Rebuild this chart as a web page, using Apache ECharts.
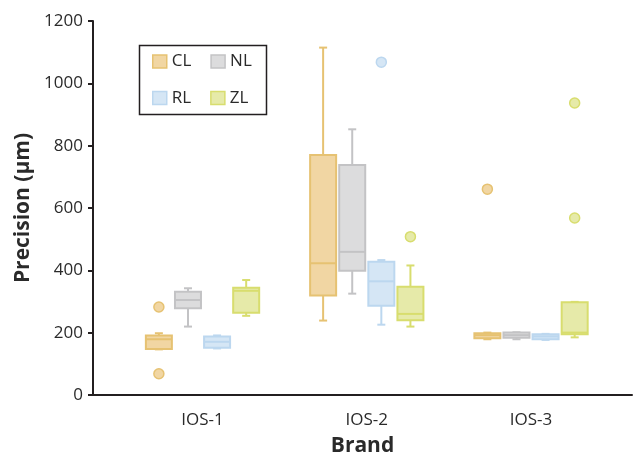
<!DOCTYPE html>
<html>
<head>
<meta charset="utf-8">
<script src="https://cdn.jsdelivr.net/npm/echarts@6/dist/echarts.min.js"></script>
<style>html,body{margin:0;padding:0;background:#fff}#c{width:634px;height:462px}</style>
</head>
<body>
<div id="c"></div>
<script>
// ---- data ----
const categories = ['IOS-1', 'IOS-2', 'IOS-3'];
const seriesNames = ['CL', 'NL', 'RL', 'ZL'];
const yTicks = [0, 200, 400, 600, 800, 1000, 1200];
// each box: [min, Q1, median, Q3, max]
const clBoxes = [[163, 164, 195, 207, 214], [254, 333, 435, 777, 1116], [195, 198, 208, 214, 216]];
const nlBoxes = [[235, 293, 319, 345, 356], [339, 411, 471, 745, 858], [195, 200, 208, 216, 217]];
const rlBoxes = [[166, 168, 187, 204, 207], [241, 301, 378, 440, 445], [193, 195, 204, 211, 212]];
const zlBoxes = [[269, 279, 348, 358, 382], [235, 255, 275, 361, 428], [201, 211, 216, 312, 313]];
// outliers: [category index, value]
const clOutliers = [[0, 297], [0, 86], [2, 669]];
const nlOutliers = [];
const rlOutliers = [[1, 1070]];
const zlOutliers = [[1, 519], [2, 578], [2, 941]];

const boxSets = [clBoxes, nlBoxes, rlBoxes, zlBoxes];
const outlierSets = [clOutliers, nlOutliers, rlOutliers, zlOutliers];
const fills = ['#f1d6a3', '#dcdcdd', '#d5e6f5', '#e6eaa9'];
const strokes = ['#e6c272', '#c3c3c5', '#bcd7ef', '#d8dd6e'];

const STEP = 29.1, BOXW = 26, CAPW = 8;
const FONT = '"Open Sans", "Noto Sans", sans-serif';
const TXT = '#2a2a2a';

function makeRender(k) {
  return function (params, api) {
    const xi = api.value(0);
    const off = (k - 1.5) * STEP;
    const pMin = api.coord([xi, api.value(1)]);
    const pQ1 = api.coord([xi, api.value(2)]);
    const pMd = api.coord([xi, api.value(3)]);
    const pQ3 = api.coord([xi, api.value(4)]);
    const pMax = api.coord([xi, api.value(5)]);
    const cx = pMin[0] + off;
    const hw = BOXW / 2, cw = CAPW / 2;
    const ls = { stroke: strokes[k], lineWidth: 2 };
    return {
      type: 'group',
      children: [
        { type: 'line', shape: { x1: cx, y1: pMax[1], x2: cx, y2: pQ3[1] }, style: ls },
        { type: 'line', shape: { x1: cx, y1: pMin[1], x2: cx, y2: pQ1[1] }, style: ls },
        { type: 'line', shape: { x1: cx - cw, y1: pMax[1], x2: cx + cw, y2: pMax[1] }, style: ls },
        { type: 'line', shape: { x1: cx - cw, y1: pMin[1], x2: cx + cw, y2: pMin[1] }, style: ls },
        { type: 'rect', shape: { x: cx - hw, y: pQ3[1], width: BOXW, height: pQ1[1] - pQ3[1] },
          style: { fill: fills[k], stroke: strokes[k], lineWidth: 2 } },
        { type: 'line', shape: { x1: cx - hw, y1: pMd[1], x2: cx + hw, y2: pMd[1] }, style: ls }
      ]
    };
  };
}

const series = [];
seriesNames.forEach(function (name, k) {
  series.push({
    name: name,
    type: 'custom',
    xAxisIndex: 0, yAxisIndex: 0,
    renderItem: makeRender(k),
    itemStyle: { color: fills[k], borderColor: strokes[k] },
    encode: { x: 0, y: [1, 2, 3, 4, 5] },
    data: boxSets[k].map(function (b, i) { return [i].concat(b); }),
    silent: true, animation: false
  });
  series.push({
    name: name,
    type: 'scatter',
    xAxisIndex: 0, yAxisIndex: 0,
    symbol: 'circle', symbolSize: 10,
    symbolOffset: [(k - 1.5) * STEP, 0],
    itemStyle: { color: fills[k], borderColor: strokes[k], borderWidth: 1.5, opacity: 1 },
    data: outlierSets[k],
    silent: true, animation: false
  });
});

function legendData(names) {
  return names.map(function (n) {
    const k = seriesNames.indexOf(n);
    return { name: n, icon: 'rect', itemStyle: { color: fills[k], borderColor: strokes[k], borderWidth: 1.5 } };
  });
}

const chart = echarts.init(document.getElementById('c'), null, { renderer: 'canvas' });
chart.setOption({
  animation: false,
  backgroundColor: '#ffffff',
  grid: [
    { left: 120.4, width: 492.75, top: 21, bottom: 61, containLabel: false },
    { left: 93, right: 2, top: 21, bottom: 61, containLabel: false }
  ],
  xAxis: [
    { type: 'category', gridIndex: 0, data: categories,
      axisLine: { show: false }, axisTick: { show: false }, splitLine: { show: false },
      axisLabel: { color: TXT, fontFamily: FONT, fontSize: 17, margin: 11 } },
    { type: 'value', gridIndex: 1, min: 0, max: 1,
      axisLine: { show: true, lineStyle: { color: '#231f20', width: 2 } },
      axisTick: { show: false }, axisLabel: { show: false }, splitLine: { show: false },
      name: 'Brand', nameLocation: 'middle', nameGap: 41,
      nameTextStyle: { color: TXT, fontFamily: FONT, fontWeight: 'bold', fontSize: 21 } }
  ],
  yAxis: [
    { type: 'value', gridIndex: 0, min: 0, max: 1200, interval: 200, show: false },
    { type: 'value', gridIndex: 1, min: yTicks[0], max: yTicks[yTicks.length - 1], interval: 200,
      axisLine: { show: true, lineStyle: { color: '#231f20', width: 2 } },
      axisTick: { show: true, inside: false, length: 5, lineStyle: { color: '#231f20', width: 2 } },
      splitLine: { show: false },
      axisLabel: { color: TXT, fontFamily: FONT, fontSize: 17, margin: 10,
        formatter: function (v) { return String(v); } },
      name: 'Precision (\u03bcm)', nameLocation: 'middle', nameGap: 59,
      nameTextStyle: { color: TXT, fontFamily: FONT, fontWeight: 'bold', fontSize: 21 } }
  ],
  legend: [
    { data: legendData(['CL', 'NL']), left: 152, top: 53, orient: 'horizontal', padding: 0,
      itemWidth: 14, itemHeight: 13, itemGap: 19, selectedMode: false,
      textStyle: { color: TXT, fontFamily: FONT, fontSize: 17, lineHeight: 17 } },
    { data: legendData(['RL', 'ZL']), left: 152, top: 89.5, orient: 'horizontal', padding: 0,
      itemWidth: 14, itemHeight: 13, itemGap: 19, selectedMode: false,
      textStyle: { color: TXT, fontFamily: FONT, fontSize: 17, lineHeight: 17 } }
  ],
  graphic: [
    { type: 'rect', left: 137, top: 43, shape: { width: 127, height: 69 },
      style: { fill: 'none', stroke: '#231f20', lineWidth: 1.5 }, silent: true }
  ],
  series: series
});
</script>
</body>
</html>
